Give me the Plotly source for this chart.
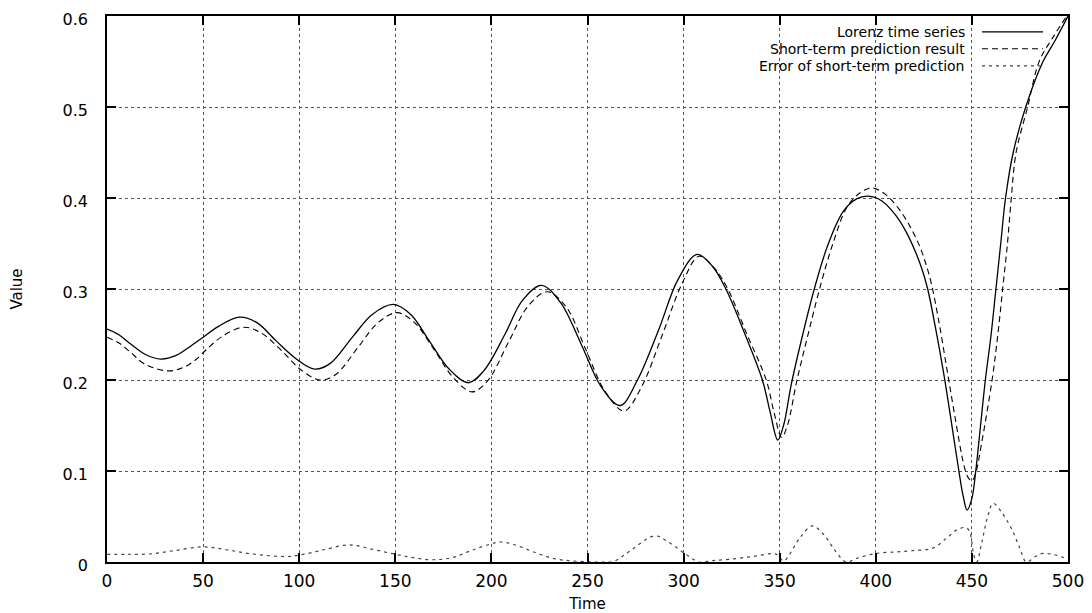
import plotly.graph_objects as go

# ---- data ----
lorenz_t = [0, 6, 12, 20, 28, 36, 44, 50, 58, 69, 78, 88, 98, 108, 116, 128, 138, 149,
            158, 168, 178, 188, 196, 207, 216, 226, 236, 247, 257, 267, 276, 287, 297, 307,
            315, 322, 332, 341, 345, 349, 352, 356, 362, 368, 375, 383, 390, 396, 403, 410,
            416, 421, 424, 427, 431, 435.5, 439, 443, 445.5, 447.5, 450, 452, 454.5, 457,
            460, 462.5, 465, 467.5, 471.5, 478, 487, 493, 500]
lorenz_v = [0.256, 0.250, 0.240, 0.228, 0.223, 0.227, 0.238, 0.247, 0.259, 0.269, 0.263,
            0.243, 0.224, 0.212, 0.218, 0.248, 0.272, 0.283, 0.272, 0.242, 0.212, 0.197,
            0.210, 0.250, 0.287, 0.304, 0.285, 0.238, 0.193, 0.172, 0.200, 0.255, 0.310,
            0.338, 0.325, 0.300, 0.250, 0.200, 0.165, 0.134, 0.150, 0.195, 0.250, 0.300,
            0.348, 0.385, 0.399, 0.402, 0.397, 0.382, 0.362, 0.339, 0.322, 0.300, 0.258,
            0.205, 0.158, 0.103, 0.072, 0.057, 0.070, 0.100, 0.150, 0.200, 0.250, 0.300,
            0.350, 0.400, 0.450, 0.500, 0.550, 0.572, 0.600]

pred_t = [0, 6, 12, 20, 32, 40, 46, 52, 60, 71, 80, 91, 101, 111, 119, 131, 141, 151,
          160, 170, 180, 190, 198, 209, 219, 229, 239, 249, 259, 269, 278, 289, 299, 308,
          316, 323, 333, 343, 347, 351, 354, 359, 365, 371, 378, 385, 392, 398, 405, 412,
          418, 423, 426, 429, 433, 437, 441, 446, 448, 450, 452, 455, 460.5, 463.5, 466,
          468.5, 470.5, 473, 479, 485, 492, 500]
pred_v = [0.247, 0.241, 0.231, 0.217, 0.210, 0.214, 0.222, 0.234, 0.248, 0.258, 0.252,
          0.232, 0.211, 0.200, 0.206, 0.237, 0.263, 0.274, 0.263, 0.234, 0.203, 0.187,
          0.199, 0.242, 0.281, 0.297, 0.280, 0.234, 0.188, 0.166, 0.192, 0.250, 0.305,
          0.336, 0.323, 0.300, 0.250, 0.200, 0.165, 0.137, 0.150, 0.200, 0.252, 0.302,
          0.352, 0.390, 0.406, 0.411, 0.404, 0.388, 0.368, 0.346, 0.328, 0.305, 0.262,
          0.212, 0.162, 0.105, 0.093, 0.089, 0.098, 0.130, 0.200, 0.250, 0.300, 0.350,
          0.400, 0.450, 0.500, 0.550, 0.576, 0.602]

err_t = [0, 10, 22, 35, 50, 62, 75, 93, 100, 112, 126, 138, 150, 160, 170, 180, 190, 200,
         205, 212, 222, 232, 240, 250, 258, 264, 272, 285, 292, 300, 308, 315, 324, 336,
         348, 352, 355, 360, 367, 373, 379, 384.5, 390, 400, 410, 419, 430, 437, 442, 447,
         449, 451, 452.5, 455, 458, 461, 465, 470.5, 475, 478.3, 483, 487, 493, 497.5, 500]
err_v = [0.0085, 0.0085, 0.0088, 0.0125, 0.0166, 0.0135, 0.009, 0.006, 0.0075, 0.013,
         0.0188, 0.014, 0.0085, 0.0045, 0.0025, 0.005, 0.013, 0.020, 0.022, 0.019, 0.011,
         0.004, 0.0015, 0.0003, 0.0, 0.001, 0.012, 0.0287, 0.022, 0.0103, 0.0, 0.0015,
         0.003, 0.006, 0.0087, 0.001, 0.008, 0.025, 0.0397, 0.030, 0.012, 0.0, 0.004,
         0.0094, 0.011, 0.0125, 0.0155, 0.0265, 0.035, 0.0378, 0.032, 0.0077, 0.0, 0.020,
         0.048, 0.0644, 0.056, 0.037, 0.015, 0.0, 0.006, 0.0094, 0.008, 0.005, 0.004]

series_names = ["Lorenz time series", "Short-term prediction result",
                "Error of short-term prediction"]
x_ticks = [0, 50, 100, 150, 200, 250, 300, 350, 400, 450, 500]
y_ticks = [0, 0.1, 0.2, 0.3, 0.4, 0.5, 0.6]
y_ticktext = ["0", "0.1", "0.2", "0.3", "0.4", "0.5", "0.6"]

FONT = "DejaVu Sans"
styles = [dict(color="black", width=1.3, dash="solid"),
          dict(color="black", width=1.1, dash="6px,4px"),
          dict(color="#444444", width=1.2, dash="3px,4px")]

fig = go.Figure()
for name, xs, ys, st in zip(series_names, [lorenz_t, pred_t, err_t],
                            [lorenz_v, pred_v, err_v], styles):
    fig.add_trace(go.Scatter(x=xs, y=ys, mode="lines", name=name,
                             line=dict(shape="spline", smoothing=1.0, **st),
                             showlegend=False))

# gnuplot-style key: text right-aligned, sample line on the right
key_y = [0.971, 0.9399, 0.9088]
for name, ky, st in zip(series_names, key_y, styles):
    fig.add_annotation(xref="paper", yref="paper", x=0.895, y=ky, text=name,
                       showarrow=False, xanchor="right", yanchor="middle",
                       font=dict(family=FONT, size=14, color="black"))
    fig.add_shape(type="line", xref="paper", yref="paper", x0=0.9105, x1=0.974,
                  y0=ky, y1=ky, line=st, layer="above")

# key area hides the grid lines behind it
fig.add_shape(type="rect", xref="paper", yref="paper", x0=0.49, x1=0.995,
              y0=0.883, y1=1.0, fillcolor="white", line=dict(width=0), layer="between")

axis_common = dict(showline=True, linecolor="black", linewidth=1.5, mirror="ticks",
                   ticks="inside", ticklen=9, tickwidth=1.5, tickcolor="black",
                   showgrid=True, gridcolor="#555555", griddash="dot", gridwidth=1,
                   zeroline=False, automargin=False, ticklabeloverflow="allow")

fig.update_xaxes(range=[0, 500], tickvals=x_ticks, ticklabelstandoff=3,
                 tickfont=dict(family=FONT, size=17, color="black"),
                 title=dict(text="Time", font=dict(family=FONT, size=15, color="black"),
                            standoff=13),
                 **axis_common)
fig.update_yaxes(range=[0, 0.6], tickvals=y_ticks, ticktext=y_ticktext,
                 ticklabelstandoff=14, ticklabelshift=3,
                 tickfont=dict(family=FONT, size=16, color="black"),
                 title=dict(text="Value", font=dict(family=FONT, size=15, color="black"),
                            standoff=39),
                 **axis_common)

# the page body adds an 8px margin, so margins are reduced by that amount
fig.update_layout(width=1084, height=605, margin=dict(l=99, r=24, t=8, b=51),
                  plot_bgcolor="white", paper_bgcolor="white", showlegend=False)

fig.write_html("out.html")
